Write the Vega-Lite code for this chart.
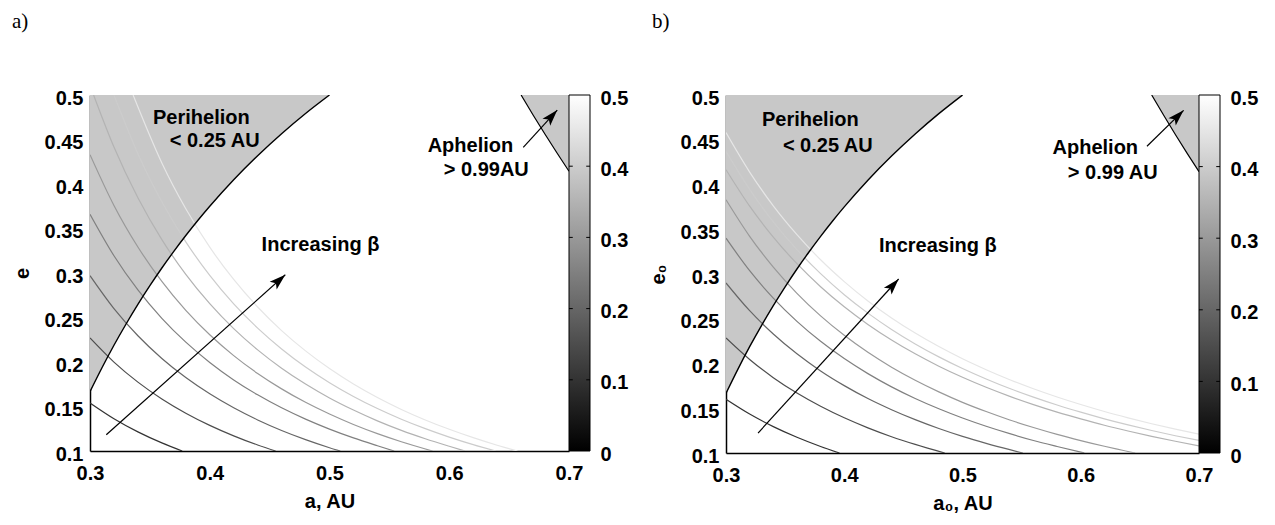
{
  "$schema": "https://vega.github.io/schema/vega-lite/v6.json",
  "background": "white",
  "padding": {"left": 12, "top": 11, "right": 5, "bottom": 5},
  "config": {
    "view": {"stroke": null},
    "font": "Liberation Sans",
    "axis": {
      "labelFont": "Liberation Sans", "labelFontSize": 20, "labelFontWeight": "bold", "labelColor": "#000",
      "titleFont": "Liberation Sans", "titleFontSize": 20, "titleFontWeight": "bold", "titleColor": "#000",
      "domainColor": "#000", "domainWidth": 1.5, "ticks": false, "grid": false,
      "labelFlush": false, "labelOverlap": false
    },
    "title": {"font": "Liberation Serif", "fontSize": 21, "fontWeight": "normal", "color": "#000", "anchor": "start", "frame": "group"}
  },
  "datasets": {
    "peri": [
      {"a": 0.30, "e": 0.1667}, {"a": 0.31, "e": 0.1935}, {"a": 0.32, "e": 0.2188}, {"a": 0.33, "e": 0.2424},
      {"a": 0.34, "e": 0.2647}, {"a": 0.35, "e": 0.2857}, {"a": 0.36, "e": 0.3056}, {"a": 0.37, "e": 0.3243},
      {"a": 0.38, "e": 0.3421}, {"a": 0.39, "e": 0.359}, {"a": 0.40, "e": 0.375}, {"a": 0.42, "e": 0.4048},
      {"a": 0.44, "e": 0.4318}, {"a": 0.46, "e": 0.4565}, {"a": 0.48, "e": 0.4792}, {"a": 0.50, "e": 0.5}
    ],
    "aph": [
      {"a": 0.66, "e": 0.5}, {"a": 0.67, "e": 0.4776}, {"a": 0.68, "e": 0.4559}, {"a": 0.69, "e": 0.4348}, {"a": 0.70, "e": 0.4143}
    ],
    "contA": [
      {"lev": 0.1, "a": 0.3, "e": 0.154}, {"lev": 0.1, "a": 0.32, "e": 0.1363}, {"lev": 0.1, "a": 0.34, "e": 0.1215}, {"lev": 0.1, "a": 0.36, "e": 0.1091}, {"lev": 0.1, "a": 0.377, "e": 0.1},
      {"lev": 0.15, "a": 0.3, "e": 0.227}, {"lev": 0.15, "a": 0.32, "e": 0.1999}, {"lev": 0.15, "a": 0.34, "e": 0.1774}, {"lev": 0.15, "a": 0.36, "e": 0.1585}, {"lev": 0.15, "a": 0.38, "e": 0.1425}, {"lev": 0.15, "a": 0.40, "e": 0.1288}, {"lev": 0.15, "a": 0.42, "e": 0.117}, {"lev": 0.15, "a": 0.44, "e": 0.1067}, {"lev": 0.15, "a": 0.455, "e": 0.1},
      {"lev": 0.2, "a": 0.3, "e": 0.297}, {"lev": 0.2, "a": 0.32, "e": 0.26}, {"lev": 0.2, "a": 0.34, "e": 0.2295}, {"lev": 0.2, "a": 0.36, "e": 0.204}, {"lev": 0.2, "a": 0.38, "e": 0.1825}, {"lev": 0.2, "a": 0.40, "e": 0.1642}, {"lev": 0.2, "a": 0.42, "e": 0.1485}, {"lev": 0.2, "a": 0.44, "e": 0.1349}, {"lev": 0.2, "a": 0.46, "e": 0.1231}, {"lev": 0.2, "a": 0.48, "e": 0.1128}, {"lev": 0.2, "a": 0.50, "e": 0.1037}, {"lev": 0.2, "a": 0.509, "e": 0.1},
      {"lev": 0.25, "a": 0.3, "e": 0.366}, {"lev": 0.25, "a": 0.32, "e": 0.3194}, {"lev": 0.25, "a": 0.34, "e": 0.281}, {"lev": 0.25, "a": 0.36, "e": 0.2491}, {"lev": 0.25, "a": 0.38, "e": 0.2223}, {"lev": 0.25, "a": 0.40, "e": 0.1995}, {"lev": 0.25, "a": 0.42, "e": 0.1799}, {"lev": 0.25, "a": 0.44, "e": 0.1631}, {"lev": 0.25, "a": 0.46, "e": 0.1485}, {"lev": 0.25, "a": 0.48, "e": 0.1358}, {"lev": 0.25, "a": 0.50, "e": 0.1246}, {"lev": 0.25, "a": 0.52, "e": 0.1147}, {"lev": 0.25, "a": 0.54, "e": 0.1059}, {"lev": 0.25, "a": 0.554, "e": 0.1},
      {"lev": 0.3, "a": 0.3, "e": 0.433}, {"lev": 0.3, "a": 0.32, "e": 0.3759}, {"lev": 0.3, "a": 0.34, "e": 0.3292}, {"lev": 0.3, "a": 0.36, "e": 0.2905}, {"lev": 0.3, "a": 0.38, "e": 0.258}, {"lev": 0.3, "a": 0.40, "e": 0.2306}, {"lev": 0.3, "a": 0.42, "e": 0.2072}, {"lev": 0.3, "a": 0.44, "e": 0.1871}, {"lev": 0.3, "a": 0.46, "e": 0.1698}, {"lev": 0.3, "a": 0.48, "e": 0.1547}, {"lev": 0.3, "a": 0.50, "e": 0.1415}, {"lev": 0.3, "a": 0.52, "e": 0.1298}, {"lev": 0.3, "a": 0.54, "e": 0.1195}, {"lev": 0.3, "a": 0.56, "e": 0.1104}, {"lev": 0.3, "a": 0.586, "e": 0.1},
      {"lev": 0.35, "a": 0.303, "e": 0.5}, {"lev": 0.35, "a": 0.32, "e": 0.4415}, {"lev": 0.35, "a": 0.34, "e": 0.3845}, {"lev": 0.35, "a": 0.36, "e": 0.3375}, {"lev": 0.35, "a": 0.38, "e": 0.2984}, {"lev": 0.35, "a": 0.40, "e": 0.2655}, {"lev": 0.35, "a": 0.42, "e": 0.2375}, {"lev": 0.35, "a": 0.44, "e": 0.2136}, {"lev": 0.35, "a": 0.46, "e": 0.193}, {"lev": 0.35, "a": 0.48, "e": 0.1752}, {"lev": 0.35, "a": 0.50, "e": 0.1596}, {"lev": 0.35, "a": 0.52, "e": 0.146}, {"lev": 0.35, "a": 0.54, "e": 0.1339}, {"lev": 0.35, "a": 0.56, "e": 0.1232}, {"lev": 0.35, "a": 0.58, "e": 0.1138}, {"lev": 0.35, "a": 0.60, "e": 0.1053}, {"lev": 0.35, "a": 0.613, "e": 0.1},
      {"lev": 0.4, "a": 0.32, "e": 0.5}, {"lev": 0.4, "a": 0.34, "e": 0.4341}, {"lev": 0.4, "a": 0.36, "e": 0.38}, {"lev": 0.4, "a": 0.38, "e": 0.335}, {"lev": 0.4, "a": 0.40, "e": 0.2973}, {"lev": 0.4, "a": 0.42, "e": 0.2653}, {"lev": 0.4, "a": 0.44, "e": 0.2381}, {"lev": 0.4, "a": 0.46, "e": 0.2147}, {"lev": 0.4, "a": 0.48, "e": 0.1944}, {"lev": 0.4, "a": 0.50, "e": 0.1768}, {"lev": 0.4, "a": 0.52, "e": 0.1613}, {"lev": 0.4, "a": 0.54, "e": 0.1477}, {"lev": 0.4, "a": 0.56, "e": 0.1357}, {"lev": 0.4, "a": 0.58, "e": 0.1251}, {"lev": 0.4, "a": 0.60, "e": 0.1156}, {"lev": 0.4, "a": 0.62, "e": 0.1071}, {"lev": 0.4, "a": 0.639, "e": 0.1},
      {"lev": 0.45, "a": 0.336, "e": 0.5}, {"lev": 0.45, "a": 0.36, "e": 0.4237}, {"lev": 0.45, "a": 0.38, "e": 0.3722}, {"lev": 0.45, "a": 0.40, "e": 0.329}, {"lev": 0.45, "a": 0.42, "e": 0.2927}, {"lev": 0.45, "a": 0.44, "e": 0.2618}, {"lev": 0.45, "a": 0.46, "e": 0.2353}, {"lev": 0.45, "a": 0.48, "e": 0.2125}, {"lev": 0.45, "a": 0.50, "e": 0.1926}, {"lev": 0.45, "a": 0.52, "e": 0.1753}, {"lev": 0.45, "a": 0.54, "e": 0.1601}, {"lev": 0.45, "a": 0.56, "e": 0.1467}, {"lev": 0.45, "a": 0.58, "e": 0.1349}, {"lev": 0.45, "a": 0.60, "e": 0.1244}, {"lev": 0.45, "a": 0.62, "e": 0.115}, {"lev": 0.45, "a": 0.64, "e": 0.1065}, {"lev": 0.45, "a": 0.657, "e": 0.1}
    ],
    "contB": [
      {"lev": 0.1, "a": 0.3, "e": 0.16}, {"lev": 0.1, "a": 0.32, "e": 0.1435}, {"lev": 0.1, "a": 0.34, "e": 0.1295}, {"lev": 0.1, "a": 0.36, "e": 0.1176}, {"lev": 0.1, "a": 0.38, "e": 0.1073}, {"lev": 0.1, "a": 0.396, "e": 0.1},
      {"lev": 0.15, "a": 0.3, "e": 0.2285}, {"lev": 0.15, "a": 0.32, "e": 0.2045}, {"lev": 0.15, "a": 0.34, "e": 0.1842}, {"lev": 0.15, "a": 0.36, "e": 0.167}, {"lev": 0.15, "a": 0.38, "e": 0.1522}, {"lev": 0.15, "a": 0.40, "e": 0.1393}, {"lev": 0.15, "a": 0.42, "e": 0.1281}, {"lev": 0.15, "a": 0.44, "e": 0.1182}, {"lev": 0.15, "a": 0.46, "e": 0.1096}, {"lev": 0.15, "a": 0.485, "e": 0.1},
      {"lev": 0.2, "a": 0.3, "e": 0.29}, {"lev": 0.2, "a": 0.32, "e": 0.259}, {"lev": 0.2, "a": 0.34, "e": 0.233}, {"lev": 0.2, "a": 0.36, "e": 0.2108}, {"lev": 0.2, "a": 0.38, "e": 0.1917}, {"lev": 0.2, "a": 0.40, "e": 0.1753}, {"lev": 0.2, "a": 0.42, "e": 0.1609}, {"lev": 0.2, "a": 0.44, "e": 0.1484}, {"lev": 0.2, "a": 0.46, "e": 0.1373}, {"lev": 0.2, "a": 0.48, "e": 0.1274}, {"lev": 0.2, "a": 0.50, "e": 0.1186}, {"lev": 0.2, "a": 0.52, "e": 0.1108}, {"lev": 0.2, "a": 0.54, "e": 0.1037}, {"lev": 0.2, "a": 0.551, "e": 0.1},
      {"lev": 0.25, "a": 0.3, "e": 0.34}, {"lev": 0.25, "a": 0.32, "e": 0.3037}, {"lev": 0.25, "a": 0.34, "e": 0.2731}, {"lev": 0.25, "a": 0.36, "e": 0.2471}, {"lev": 0.25, "a": 0.38, "e": 0.2248}, {"lev": 0.25, "a": 0.40, "e": 0.2055}, {"lev": 0.25, "a": 0.42, "e": 0.1887}, {"lev": 0.25, "a": 0.44, "e": 0.1739}, {"lev": 0.25, "a": 0.46, "e": 0.1609}, {"lev": 0.25, "a": 0.48, "e": 0.1494}, {"lev": 0.25, "a": 0.50, "e": 0.1391}, {"lev": 0.25, "a": 0.52, "e": 0.1299}, {"lev": 0.25, "a": 0.54, "e": 0.1216}, {"lev": 0.25, "a": 0.56, "e": 0.114}, {"lev": 0.25, "a": 0.58, "e": 0.1073}, {"lev": 0.25, "a": 0.603, "e": 0.1},
      {"lev": 0.3, "a": 0.3, "e": 0.383}, {"lev": 0.3, "a": 0.32, "e": 0.3421}, {"lev": 0.3, "a": 0.34, "e": 0.3077}, {"lev": 0.3, "a": 0.36, "e": 0.2784}, {"lev": 0.3, "a": 0.38, "e": 0.2532}, {"lev": 0.3, "a": 0.40, "e": 0.2315}, {"lev": 0.3, "a": 0.42, "e": 0.2125}, {"lev": 0.3, "a": 0.44, "e": 0.1959}, {"lev": 0.3, "a": 0.46, "e": 0.1813}, {"lev": 0.3, "a": 0.48, "e": 0.1683}, {"lev": 0.3, "a": 0.50, "e": 0.1566}, {"lev": 0.3, "a": 0.52, "e": 0.1463}, {"lev": 0.3, "a": 0.54, "e": 0.1369}, {"lev": 0.3, "a": 0.56, "e": 0.1285}, {"lev": 0.3, "a": 0.58, "e": 0.1208}, {"lev": 0.3, "a": 0.60, "e": 0.1139}, {"lev": 0.3, "a": 0.62, "e": 0.1075}, {"lev": 0.3, "a": 0.646, "e": 0.1},
      {"lev": 0.35, "a": 0.3, "e": 0.4165}, {"lev": 0.35, "a": 0.32, "e": 0.3758}, {"lev": 0.35, "a": 0.34, "e": 0.3412}, {"lev": 0.35, "a": 0.36, "e": 0.3115}, {"lev": 0.35, "a": 0.38, "e": 0.2858}, {"lev": 0.35, "a": 0.40, "e": 0.2634}, {"lev": 0.35, "a": 0.42, "e": 0.2437}, {"lev": 0.35, "a": 0.44, "e": 0.2263}, {"lev": 0.35, "a": 0.46, "e": 0.2108}, {"lev": 0.35, "a": 0.48, "e": 0.197}, {"lev": 0.35, "a": 0.50, "e": 0.1846}, {"lev": 0.35, "a": 0.52, "e": 0.1734}, {"lev": 0.35, "a": 0.54, "e": 0.1633}, {"lev": 0.35, "a": 0.56, "e": 0.1541}, {"lev": 0.35, "a": 0.58, "e": 0.1457}, {"lev": 0.35, "a": 0.60, "e": 0.1381}, {"lev": 0.35, "a": 0.62, "e": 0.131}, {"lev": 0.35, "a": 0.64, "e": 0.1246}, {"lev": 0.35, "a": 0.66, "e": 0.1186}, {"lev": 0.35, "a": 0.68, "e": 0.1131}, {"lev": 0.35, "a": 0.70, "e": 0.108},
      {"lev": 0.4, "a": 0.3, "e": 0.437}, {"lev": 0.4, "a": 0.32, "e": 0.3945}, {"lev": 0.4, "a": 0.34, "e": 0.3583}, {"lev": 0.4, "a": 0.36, "e": 0.3273}, {"lev": 0.4, "a": 0.38, "e": 0.3004}, {"lev": 0.4, "a": 0.40, "e": 0.2769}, {"lev": 0.4, "a": 0.42, "e": 0.2563}, {"lev": 0.4, "a": 0.44, "e": 0.2381}, {"lev": 0.4, "a": 0.46, "e": 0.2219}, {"lev": 0.4, "a": 0.48, "e": 0.2074}, {"lev": 0.4, "a": 0.50, "e": 0.1944}, {"lev": 0.4, "a": 0.52, "e": 0.1827}, {"lev": 0.4, "a": 0.54, "e": 0.172}, {"lev": 0.4, "a": 0.56, "e": 0.1624}, {"lev": 0.4, "a": 0.58, "e": 0.1536}, {"lev": 0.4, "a": 0.60, "e": 0.1456}, {"lev": 0.4, "a": 0.62, "e": 0.1382}, {"lev": 0.4, "a": 0.64, "e": 0.1314}, {"lev": 0.4, "a": 0.66, "e": 0.1251}, {"lev": 0.4, "a": 0.68, "e": 0.1193}, {"lev": 0.4, "a": 0.70, "e": 0.114},
      {"lev": 0.45, "a": 0.3, "e": 0.458}, {"lev": 0.45, "a": 0.32, "e": 0.4139}, {"lev": 0.45, "a": 0.34, "e": 0.3762}, {"lev": 0.45, "a": 0.36, "e": 0.344}, {"lev": 0.45, "a": 0.38, "e": 0.3159}, {"lev": 0.45, "a": 0.40, "e": 0.2915}, {"lev": 0.45, "a": 0.42, "e": 0.2699}, {"lev": 0.45, "a": 0.44, "e": 0.2509}, {"lev": 0.45, "a": 0.46, "e": 0.234}, {"lev": 0.45, "a": 0.48, "e": 0.2189}, {"lev": 0.45, "a": 0.50, "e": 0.2053}, {"lev": 0.45, "a": 0.52, "e": 0.1931}, {"lev": 0.45, "a": 0.54, "e": 0.1819}, {"lev": 0.45, "a": 0.56, "e": 0.1718}, {"lev": 0.45, "a": 0.58, "e": 0.1626}, {"lev": 0.45, "a": 0.60, "e": 0.1542}, {"lev": 0.45, "a": 0.62, "e": 0.1464}, {"lev": 0.45, "a": 0.64, "e": 0.1393}, {"lev": 0.45, "a": 0.66, "e": 0.1327}, {"lev": 0.45, "a": 0.68, "e": 0.1266}, {"lev": 0.45, "a": 0.70, "e": 0.121}
    ],
    "arrA": [
      {"k": "main", "a": 0.3136, "e": 0.1183, "a2": 0.4631, "e2": 0.298},
      {"k": "aph", "a": 0.6618, "e": 0.4412, "a2": 0.6902, "e2": 0.4831}
    ],
    "headA": [
      {"k": "main", "a": 0.4631, "e": 0.298},
      {"k": "aph", "a": 0.6902, "e": 0.4831}
    ],
    "txtA": [
      {"t": "Perihelion", "a": 0.393, "e": 0.4742},
      {"t": "< 0.25 AU", "a": 0.4041, "e": 0.448},
      {"t": "Increasing β", "a": 0.4925, "e": 0.3318},
      {"t": "Aphelion", "a": 0.6177, "e": 0.4424},
      {"t": "> 0.99AU", "a": 0.6309, "e": 0.4161}
    ],
    "arrB": [
      {"k": "main", "a": 0.3271, "e": 0.1223, "a2": 0.446, "e2": 0.2944},
      {"k": "aph", "a": 0.656, "e": 0.4427, "a2": 0.687, "e2": 0.4829}
    ],
    "headB": [
      {"k": "main", "a": 0.446, "e": 0.2944},
      {"k": "aph", "a": 0.687, "e": 0.4829}
    ],
    "txtB": [
      {"t": "Perihelion", "a": 0.3713, "e": 0.4724},
      {"t": "< 0.25 AU", "a": 0.3861, "e": 0.4427},
      {"t": "Increasing β", "a": 0.4791, "e": 0.331},
      {"t": "Aphelion", "a": 0.6123, "e": 0.4408},
      {"t": "> 0.99 AU", "a": 0.6271, "e": 0.4128}
    ],
    "cb": [{"x0": 0, "x1": 1, "lo": 0, "hi": 0.5}],
    "cbt": [
      {"v": 0.1, "x0": 0, "x1": 0.18}, {"v": 0.2, "x0": 0, "x1": 0.18}, {"v": 0.3, "x0": 0, "x1": 0.18}, {"v": 0.4, "x0": 0, "x1": 0.18},
      {"v": 0.1, "x0": 0.82, "x1": 1}, {"v": 0.2, "x0": 0.82, "x1": 1}, {"v": 0.3, "x0": 0.82, "x1": 1}, {"v": 0.4, "x0": 0.82, "x1": 1}
    ]
  },
  "spacing": 20,
  "hconcat": [
    {
      "bounds": "flush",
      "spacing": 0,
      "hconcat": [
        {
          "width": 479, "height": 356,
          "title": {"text": "a)", "dx": -78, "offset": 56},
          "encoding": {
            "x": {"field": "a", "type": "quantitative", "scale": {"domain": [0.3, 0.7], "nice": false, "zero": false},
                  "axis": {"title": "a, AU", "values": [0.3, 0.4, 0.5, 0.6, 0.7], "format": ".1f", "labelPadding": 12, "titlePadding": 8}},
            "y": {"field": "e", "type": "quantitative", "scale": {"domain": [0.1, 0.5], "nice": false, "zero": false},
                  "axis": {"title": "e", "values": [0.1, 0.15, 0.2, 0.25, 0.3, 0.35, 0.4, 0.45, 0.5], "format": "~g", "labelPadding": 7, "titlePadding": 12, "labelOffset": 3}}
          },
          "layer": [
            {"data": {"name": "peri"}, "mark": {"type": "area", "color": "#c8c8c8", "clip": true}, "encoding": {"y2": {"datum": 0.5}}},
            {"data": {"name": "aph"}, "mark": {"type": "area", "color": "#c8c8c8", "clip": true}, "encoding": {"y2": {"datum": 0.5}}},
            {"data": {"name": "contA"}, "mark": {"type": "line", "strokeWidth": 1.2, "interpolate": "monotone", "clip": true},
             "encoding": {"color": {"field": "lev", "type": "quantitative", "scale": {"domain": [0, 0.5], "range": ["#000000", "#ffffff"], "interpolate": "rgb"}, "legend": null},
                          "detail": {"field": "lev", "type": "nominal"}}},
            {"data": {"name": "peri"}, "mark": {"type": "line", "color": "#000", "strokeWidth": 1.4, "interpolate": "monotone", "clip": true}, "encoding": {}},
            {"data": {"name": "aph"}, "mark": {"type": "line", "color": "#000", "strokeWidth": 1.2, "clip": true}, "encoding": {}},
            {"data": {"name": "arrA"}, "mark": {"type": "rule", "color": "#000", "strokeWidth": 1.2}, "encoding": {"x2": {"field": "a2"}, "y2": {"field": "e2"}}},
            {"data": {"name": "headA"}, "transform": [{"filter": "datum.k == 'main'"}],
             "mark": {"type": "point", "shape": "M0,0 L0.7,2.2 L0,1.7 L-0.7,2.2 Z", "size": 220, "filled": true, "color": "#000", "opacity": 1, "angle": 48}},
            {"data": {"name": "headA"}, "transform": [{"filter": "datum.k == 'aph'"}],
             "mark": {"type": "point", "shape": "M0,0 L0.7,2.2 L0,1.7 L-0.7,2.2 Z", "size": 220, "filled": true, "color": "#000", "opacity": 1, "angle": 42}},
            {"data": {"name": "txtA"}, "mark": {"type": "text", "font": "Liberation Sans", "fontSize": 20, "fontWeight": "bold", "align": "center", "baseline": "middle", "color": "#000"},
             "encoding": {"text": {"field": "t"}}}
          ]
        },
        {
          "width": 21, "height": 356,
          "layer": [
            {"data": {"name": "cb"},
             "mark": {"type": "rect", "fill": {"gradient": "linear", "x1": 0, "y1": 1, "x2": 0, "y2": 0, "stops": [{"offset": 0, "color": "#000000"}, {"offset": 1, "color": "#ffffff"}]}, "stroke": "#000", "strokeWidth": 1},
             "encoding": {
               "x": {"field": "x0", "type": "quantitative", "scale": {"domain": [0, 1], "nice": false, "zero": false}, "axis": null},
               "x2": {"field": "x1"},
               "y": {"field": "lo", "type": "quantitative", "scale": {"domain": [0, 0.5], "nice": false}, "axis": {"orient": "right", "title": null, "values": [0, 0.1, 0.2, 0.3, 0.4, 0.5], "format": "~g", "labelPadding": 10, "domain": false, "labelOffset": 3}},
               "y2": {"field": "hi"}}},
            {"data": {"name": "cbt"}, "mark": {"type": "rule", "color": "#000", "strokeWidth": 1},
             "encoding": {
               "x": {"field": "x0", "type": "quantitative", "scale": {"domain": [0, 1], "nice": false, "zero": false}, "axis": null},
               "x2": {"field": "x1"},
               "y": {"field": "v", "type": "quantitative", "scale": {"domain": [0, 0.5], "nice": false}, "axis": {"orient": "right", "title": null, "values": [0, 0.1, 0.2, 0.3, 0.4, 0.5], "format": "~g", "labelPadding": 10, "domain": false, "labelOffset": 3}}}}
          ]
        }
      ]
    },
    {
      "bounds": "flush",
      "spacing": 0,
      "hconcat": [
        {
          "width": 473, "height": 358,
          "title": {"text": "b)", "dx": -74, "offset": 56},
          "encoding": {
            "x": {"field": "a", "type": "quantitative", "scale": {"domain": [0.3, 0.7], "nice": false, "zero": false},
                  "axis": {"title": "a₀, AU", "values": [0.3, 0.4, 0.5, 0.6, 0.7], "format": ".1f", "labelPadding": 12, "titlePadding": 8}},
            "y": {"field": "e", "type": "quantitative", "scale": {"domain": [0.1, 0.5], "nice": false, "zero": false},
                  "axis": {"title": "e₀", "values": [0.1, 0.15, 0.2, 0.25, 0.3, 0.35, 0.4, 0.45, 0.5], "format": "~g", "labelPadding": 7, "titlePadding": 12, "labelOffset": 3}}
          },
          "layer": [
            {"data": {"name": "peri"}, "mark": {"type": "area", "color": "#c8c8c8", "clip": true}, "encoding": {"y2": {"datum": 0.5}}},
            {"data": {"name": "aph"}, "mark": {"type": "area", "color": "#c8c8c8", "clip": true}, "encoding": {"y2": {"datum": 0.5}}},
            {"data": {"name": "contB"}, "mark": {"type": "line", "strokeWidth": 1.2, "interpolate": "monotone", "clip": true},
             "encoding": {"color": {"field": "lev", "type": "quantitative", "scale": {"domain": [0, 0.5], "range": ["#000000", "#ffffff"], "interpolate": "rgb"}, "legend": null},
                          "detail": {"field": "lev", "type": "nominal"}}},
            {"data": {"name": "peri"}, "mark": {"type": "line", "color": "#000", "strokeWidth": 1.4, "interpolate": "monotone", "clip": true}, "encoding": {}},
            {"data": {"name": "aph"}, "mark": {"type": "line", "color": "#000", "strokeWidth": 1.2, "clip": true}, "encoding": {}},
            {"data": {"name": "arrB"}, "mark": {"type": "rule", "color": "#000", "strokeWidth": 1.2}, "encoding": {"x2": {"field": "a2"}, "y2": {"field": "e2"}}},
            {"data": {"name": "headB"}, "transform": [{"filter": "datum.k == 'main'"}],
             "mark": {"type": "point", "shape": "M0,0 L0.7,2.2 L0,1.7 L-0.7,2.2 Z", "size": 220, "filled": true, "color": "#000", "opacity": 1, "angle": 42}},
            {"data": {"name": "headB"}, "transform": [{"filter": "datum.k == 'aph'"}],
             "mark": {"type": "point", "shape": "M0,0 L0.7,2.2 L0,1.7 L-0.7,2.2 Z", "size": 220, "filled": true, "color": "#000", "opacity": 1, "angle": 45}},
            {"data": {"name": "txtB"}, "mark": {"type": "text", "font": "Liberation Sans", "fontSize": 20, "fontWeight": "bold", "align": "center", "baseline": "middle", "color": "#000"},
             "encoding": {"text": {"field": "t"}}}
          ]
        },
        {
          "width": 21, "height": 358,
          "layer": [
            {"data": {"name": "cb"},
             "mark": {"type": "rect", "fill": {"gradient": "linear", "x1": 0, "y1": 1, "x2": 0, "y2": 0, "stops": [{"offset": 0, "color": "#000000"}, {"offset": 1, "color": "#ffffff"}]}, "stroke": "#000", "strokeWidth": 1},
             "encoding": {
               "x": {"field": "x0", "type": "quantitative", "scale": {"domain": [0, 1], "nice": false, "zero": false}, "axis": null},
               "x2": {"field": "x1"},
               "y": {"field": "lo", "type": "quantitative", "scale": {"domain": [0, 0.5], "nice": false}, "axis": {"orient": "right", "title": null, "values": [0, 0.1, 0.2, 0.3, 0.4, 0.5], "format": "~g", "labelPadding": 10, "domain": false, "labelOffset": 3}},
               "y2": {"field": "hi"}}},
            {"data": {"name": "cbt"}, "mark": {"type": "rule", "color": "#000", "strokeWidth": 1},
             "encoding": {
               "x": {"field": "x0", "type": "quantitative", "scale": {"domain": [0, 1], "nice": false, "zero": false}, "axis": null},
               "x2": {"field": "x1"},
               "y": {"field": "v", "type": "quantitative", "scale": {"domain": [0, 0.5], "nice": false}, "axis": {"orient": "right", "title": null, "values": [0, 0.1, 0.2, 0.3, 0.4, 0.5], "format": "~g", "labelPadding": 10, "domain": false, "labelOffset": 3}}}}
          ]
        }
      ]
    }
  ]
}
